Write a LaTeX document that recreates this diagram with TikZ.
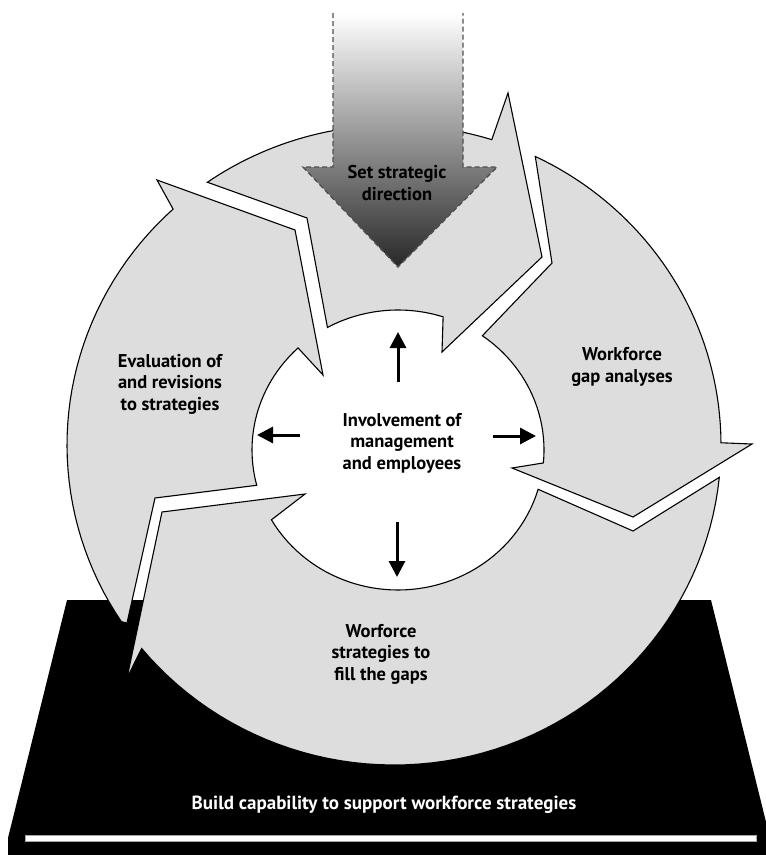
\documentclass[tikz,border=0pt]{standalone}
\usepackage{fontspec}
\setmainfont{PT Sans}
\usetikzlibrary{arrows.meta}
\definecolor{ringgray}{RGB}{221,221,221}
\definecolor{dashgray}{RGB}{80,80,80}
\definecolor{shadedark}{RGB}{40,40,40}
\definecolor{shademid}{RGB}{160,160,160}
\begin{document}
\begin{tikzpicture}[x=1pt,y=-1pt,
  seg/.style={fill=ringgray, draw=black, line width=1.1pt, line join=miter, miter limit=20},
  lbl/.style={font=\fontsize{18.5}{21.5}\selectfont\bfseries, align=center, inner sep=0pt},
  ptr/.style={line width=3pt, -{Triangle[length=16pt,width=16pt]}},
]
\useasboundingbox (0,0) rectangle (766,855);
\clip (0,0) rectangle (766,855);

% platform
\fill[black] (67,600) -- (711,600) -- (770,838) -- (770,860) -- (8,860) -- (8,838) -- cycle;
\filldraw[fill=white, draw=gray!70, line width=0.6pt] (25,835) rectangle (756,841);

% ring segment: top
\draw[seg] plot[domain=-124.8:-72.6, samples=40] ({394+327*cos(\x)},{445+320*sin(\x)})
  -- (508,93) -- (542,257) -- (442,352)
  -- plot[domain=-72:-118.9, samples=30] ({398+146*cos(\x)},{450+140*sin(\x)})
  -- (307,218) -- cycle;
% ring segment: right
\draw[seg] plot[domain=-64.4:-0.4, samples=40] ({394+327*cos(\x)},{445+320*sin(\x)})
  -- (752,444) -- (633,517) -- (512,468)
  -- plot[domain=5.3:-54.7, samples=30] ({398+146*cos(\x)},{450+140*sin(\x)})
  -- (552,263) -- cycle;
% ring segment: bottom
\draw[seg] plot[domain=5.8:140.5, samples=60] ({394+327*cos(\x)},{445+320*sin(\x)})
  -- (127,678) -- (162,512) -- (305,494)
  -- plot[domain=150.1:16.3, samples=50] ({398+146*cos(\x)},{450+140*sin(\x)})
  -- (633,531) -- cycle;
% ring segment: left
\draw[seg] (127,623) -- plot[domain=146.5:227.5, samples=40] ({394+327*cos(\x)},{445+320*sin(\x)})
  -- (157,180) -- (295,230) -- (323,375)
  -- plot[domain=226.8:165.4, samples=30] ({398+146*cos(\x)},{450+140*sin(\x)})
  -- (155,498) -- cycle;

% big arrow
\shade[top color=white, middle color=shademid, bottom color=shadedark]
  (333,13) -- (333,167) -- (303,167) -- (398,267) -- (497,167) -- (463,167) -- (463,13) -- cycle;
\draw[dashgray, dash pattern=on 5pt off 3pt, line width=1.4pt]
  (333,13) -- (333,167) -- (303,167) -- (398,267) -- (497,167) -- (463,167) -- (463,13);

% labels
\node[lbl] (setdir) at (397,183) {Set strategic\\direction};
\node[lbl] (gap) at (622,367) {Workforce\\gap analyses};
\node[lbl] (eval) at (170,384) {Evaluation of\\and revisions\\to strategies};
\node[lbl] (inv) at (402,443) {Involvement of\\management\\and employees};
\node[lbl] (fill) at (381,654) {Worforce\\strategies to\\fill the gaps};
\node[font=\fontsize{19}{22}\selectfont\bfseries, text=white, inner sep=0pt] (build) at (384,805) {Build capability to support workforce strategies};

% centre arrows
\coordinate (upS) at (398,382); \coordinate (upE) at (398,332);
\coordinate (dnS) at (397,522); \coordinate (dnE) at (397,577);
\coordinate (lfS) at (300,435); \coordinate (lfE) at (257,435);
\coordinate (rtS) at (493,436); \coordinate (rtE) at (536,436);
\draw[ptr] (upS) -- (upE);
\draw[ptr] (dnS) -- (dnE);
\draw[ptr] (lfS) -- (lfE);
\draw[ptr] (rtS) -- (rtE);
\end{tikzpicture}
\end{document}
